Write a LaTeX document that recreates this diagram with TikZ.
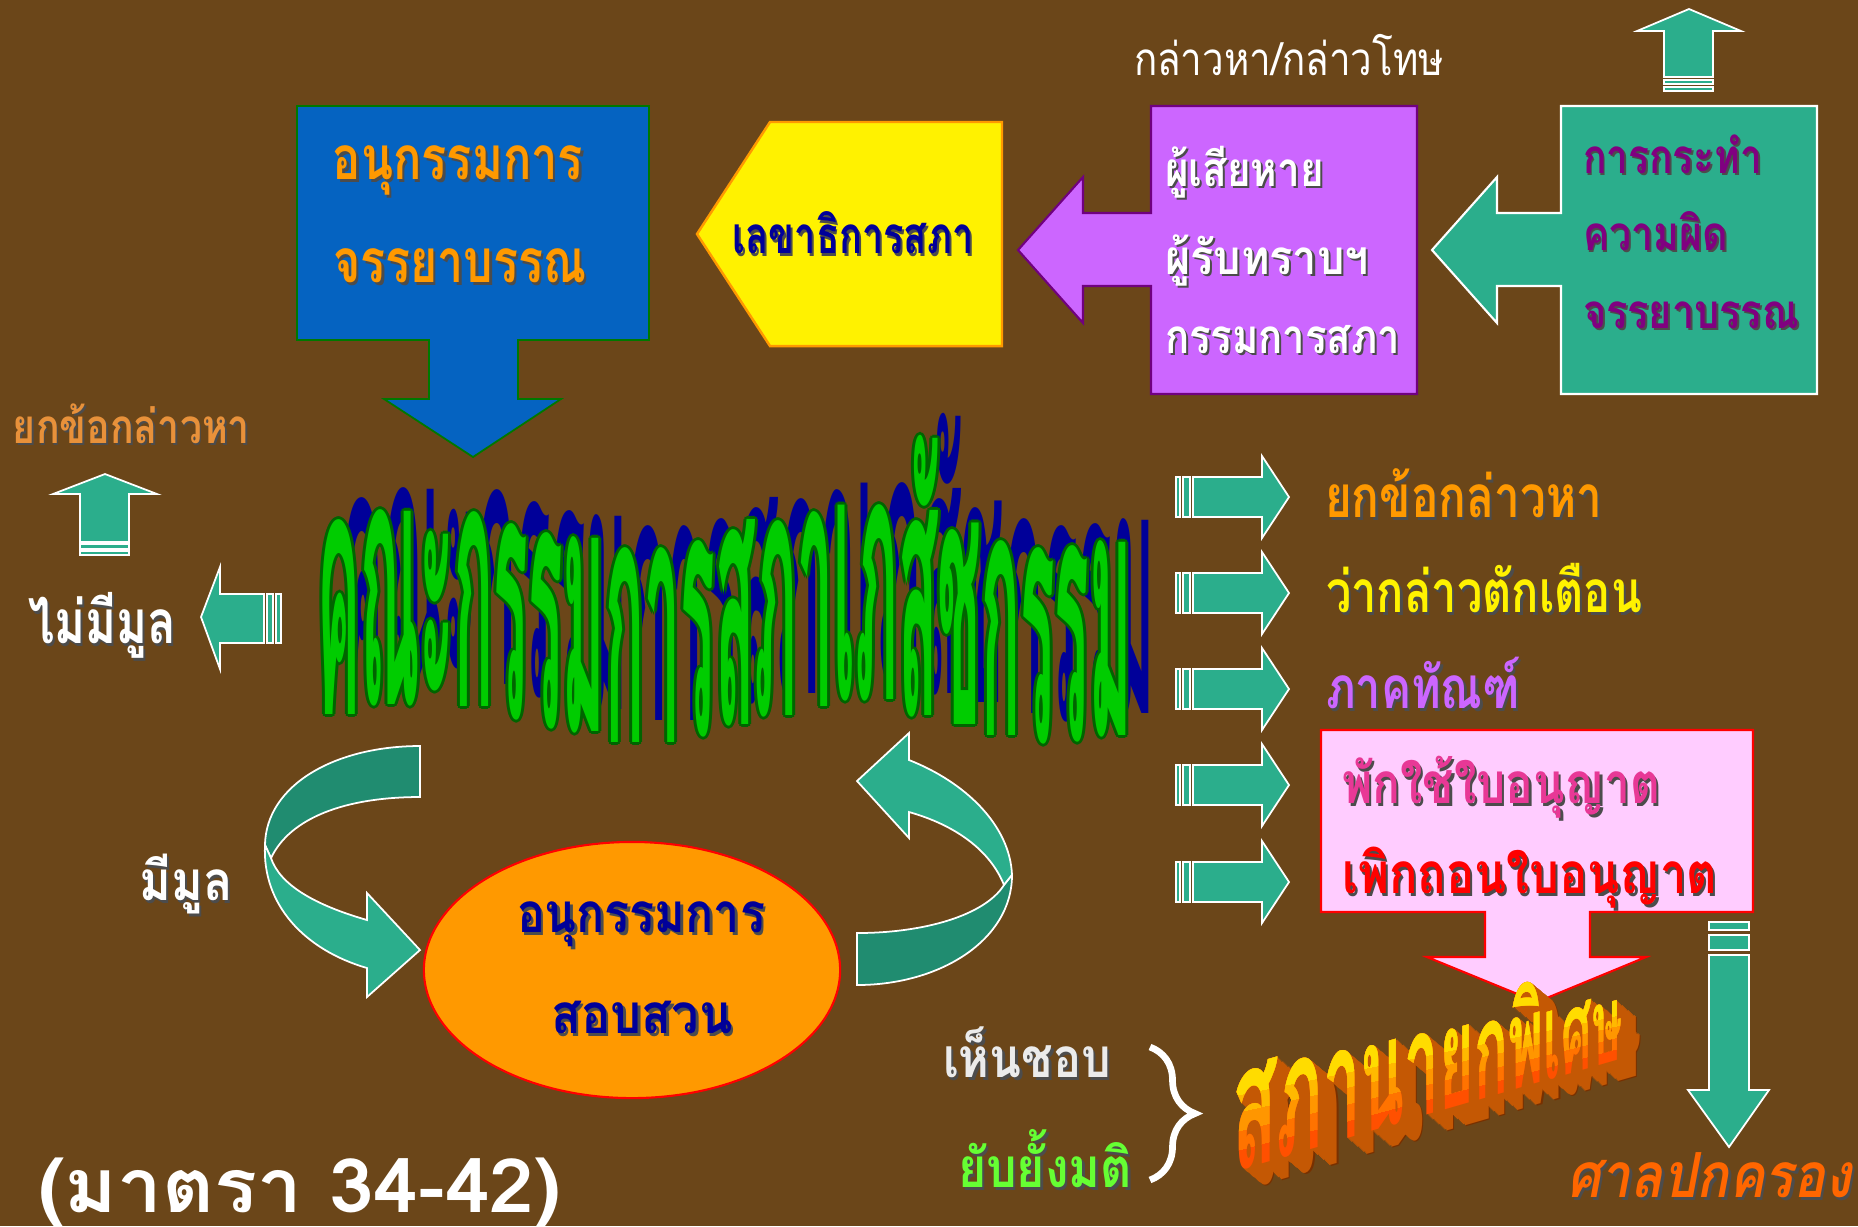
\documentclass[tikz,border=0pt]{standalone}
\usepackage{fontspec}
\usepackage{graphicx}
\newfontfamily\thf[Script=Thai]{Loma}
\newfontfamily\thsl[Script=Thai,FakeSlant=0.22]{Loma}
\usetikzlibrary{decorations.pathreplacing}
\definecolor{bg}{RGB}{107,70,25}
\definecolor{tealA}{RGB}{43,174,140}
\definecolor{tealD}{RGB}{32,140,112}
\definecolor{blueBox}{RGB}{5,99,193}
\definecolor{boxGreen}{RGB}{0,120,0}
\definecolor{orangeT}{RGB}{255,153,0}
\definecolor{orangeL}{RGB}{232,145,58}
\definecolor{navyT}{RGB}{0,0,153}
\definecolor{purpleBox}{RGB}{204,102,255}
\definecolor{purpleEdge}{RGB}{112,0,128}
\definecolor{plumT}{RGB}{128,0,128}
\definecolor{pinkBox}{RGB}{255,204,255}
\definecolor{pinkT}{RGB}{232,56,150}
\definecolor{limeT}{RGB}{102,255,51}
\definecolor{greyT}{RGB}{235,235,235}
\definecolor{courtT}{RGB}{255,102,0}
\definecolor{bigG}{RGB}{0,204,0}
\definecolor{bigGD}{RGB}{0,100,0}
\definecolor{extr}{RGB}{196,88,4}
\definecolor{extrD}{RGB}{120,48,0}
\definecolor{faceA}{RGB}{255,80,0}
\definecolor{faceB}{RGB}{255,115,0}
\definecolor{faceC}{RGB}{255,150,0}
\definecolor{faceD}{RGB}{255,185,0}
\definecolor{faceE}{RGB}{255,220,0}
\newlength\pxu \setlength\pxu{0.01cm}
\def\kx{0.52}
\newcommand\shd[2]{\rlap{\kern0.05em\raisebox{-0.06em}{\color{black!70}#2}}{\color{#1}#2}}
\newcommand\tfit[4]{\resizebox{#1\pxu}{\height}{\thf\bfseries\fontsize{\fpeval{#2*\kx}pt}{0pt}\selectfont\shd{#3}{#4}}}
\newcommand\tplain[4]{\resizebox{#1\pxu}{\height}{\thf\fontsize{\fpeval{#2*\kx}pt}{0pt}\selectfont\color{#3}#4}}
\newcommand\rbx[2]{\raisebox{#1pt}{#2}}
\newcommand\bigtxt{\rbx{0}{ค}\rbx{2.6}{ณ}\rbx{2.6}{ะ}\rbx{2}{ก}\rbx{-1.4}{ร}\rbx{-3.7}{ร}\rbx{-5.1}{ม}\rbx{-8}{ก}\rbx{-8}{า}\rbx{-6}{ร}\rbx{-3.1}{ส}\rbx{-0.3}{ภ}\rbx{2}{า}\rbx{4}{เ}\rbx{4}{ภ}\rbx{-0.3}{สั}\rbx{-3.1}{ช}\rbx{-6}{ก}\rbx{-8}{ร}\rbx{-7.4}{ร}\rbx{-6}{ม}}
\newcommand\bigfit[1]{\resizebox{815\pxu}{\height}{\thf\bfseries\fontsize{\fpeval{190*\kx}pt}{0pt}\selectfont\color{#1}\bigtxt}}
\newcommand\psc[2]{\scalebox{#1}{#2}}
\newcommand\sntext{\psc{1}{ส}\psc{0.96}{ภ}\psc{0.92}{า}\psc{0.88}{น}\psc{0.85}{า}\psc{0.81}{ย}\psc{0.77}{ก}\psc{0.73}{พิ}\psc{0.7}{เ}\psc{0.66}{ศ}\psc{0.62}{ษ}}
\newcommand\snfit[1]{\resizebox{390\pxu}{\height}{\thf\bfseries\fontsize{\fpeval{95*\kx}pt}{0pt}\selectfont\color{#1}\sntext}}
\tikzset{
  tealarrow/.style={fill=tealA, draw=white, line width=0.5pt, line join=miter},
  txt/.style={inner sep=0pt, outer sep=0pt},
  snface/.style={txt, anchor=base west, yslant=0.29},
}
\begin{document}
\begin{tikzpicture}[x=0.01cm,y=-0.01cm]
\useasboundingbox (0,0) rectangle (1858,1226);
\fill[bg] (0,0) rectangle (1858,1226);

% ---------- top row callouts ----------
\filldraw[fill=blueBox, draw=boxGreen, line width=0.5pt]
  (297,106) -- (649,106) -- (649,340) -- (518,340) -- (518,399) -- (561,399)
  -- (473,457) -- (384,399) -- (429,399) -- (429,340) -- (297,340) -- cycle;
\filldraw[fill=yellow, draw=orangeT, line width=0.7pt]
  (697,234) -- (770,122) -- (1002,122) -- (1002,346) -- (770,346) -- cycle;
\filldraw[fill=purpleBox, draw=purpleEdge, line width=0.6pt]
  (1151,106) -- (1417,106) -- (1417,394) -- (1151,394) -- (1151,286) -- (1083,286)
  -- (1083,323) -- (1018,250) -- (1083,177) -- (1083,213) -- (1151,213) -- cycle;
\filldraw[tealarrow, line width=0.6pt]
  (1561,106) -- (1817,106) -- (1817,394) -- (1561,394) -- (1561,286) -- (1497,286)
  -- (1497,323) -- (1432,250) -- (1497,177) -- (1497,213) -- (1561,213) -- cycle;

% top-right up arrow
\filldraw[tealarrow] (1689,9) -- (1741,31) -- (1713,31) -- (1713,77) -- (1664,77) -- (1664,31) -- (1637,31) -- cycle;
\filldraw[tealarrow] (1664,80) rectangle (1713,84);
\filldraw[tealarrow] (1664,87) rectangle (1713,91);

% left up arrow and left arrow
\filldraw[tealarrow] (105,474) -- (157,494) -- (129,494) -- (129,542) -- (80,542) -- (80,494) -- (53,494) -- cycle;
\filldraw[tealarrow] (80,544) rectangle (129,549);
\filldraw[tealarrow] (80,551) rectangle (129,555);
\filldraw[tealarrow] (201,617) -- (220,567) -- (220,594) -- (264,594) -- (264,643) -- (220,643) -- (220,669) -- cycle;
\filldraw[tealarrow] (267,594) rectangle (273,643);
\filldraw[tealarrow] (276,594) rectangle (281,643);

% right arrows
\foreach \cy in {497,593,689,785,882}{
  \filldraw[tealarrow] (1176,\cy-20) rectangle (1180,\cy+20);
  \filldraw[tealarrow] (1183,\cy-20) rectangle (1190,\cy+20);
  \filldraw[tealarrow] (1193,\cy-20) -- (1262,\cy-20) -- (1262,\cy-41) -- (1289,\cy) -- (1262,\cy+41) -- (1262,\cy+20) -- (1193,\cy+20) -- cycle;
}

% pink callout
\filldraw[fill=pinkBox, draw=red, line width=0.6pt]
  (1321,730) -- (1753,730) -- (1753,912) -- (1590,912) -- (1590,957) -- (1646,957)
  -- (1537,1002) -- (1427,957) -- (1485,957) -- (1485,912) -- (1321,912) -- cycle;

% right down arrow
\filldraw[tealarrow] (1709,922) rectangle (1749,930);
\filldraw[tealarrow] (1709,935) rectangle (1749,950);
\filldraw[tealarrow] (1709,955) -- (1749,955) -- (1749,1090) -- (1769,1090) -- (1729,1147) -- (1688,1090) -- (1709,1090) -- cycle;

% curved arrows
\filldraw[fill=tealD, draw=white, line width=0.5pt]
  (420,746) .. controls (335,746) and (266,785) .. (265,845) -- (271,858)
  .. controls (290,818) and (345,797) .. (420,797) -- cycle;
\filldraw[tealarrow]
  (265,845) .. controls (262,905) and (305,950) .. (367,968) -- (367,997) -- (420,950)
  -- (367,893) -- (367,920) .. controls (315,905) and (280,885) .. (271,858) -- cycle;
\filldraw[tealarrow]
  (909,760) .. controls (965,782) and (1010,825) .. (1012,875) -- (1004,885)
  .. controls (990,850) and (955,825) .. (909,812) -- (909,838) -- (857,781) -- (909,733) -- cycle;
\filldraw[fill=tealD, draw=white, line width=0.5pt]
  (1012,875) .. controls (1012,940) and (940,985) .. (857,985) -- (857,933)
  .. controls (925,933) and (985,915) .. (1004,885) -- cycle;

% ellipse
\filldraw[fill=orangeT, draw=red, line width=0.6pt] (632,970) ellipse [x radius=2.08cm, y radius=1.28cm];

% brace
\draw[white, line width=1.9pt, decorate, decoration={brace, amplitude=0.45cm}] (1150,1047) -- (1150,1180);

% ---------- texts ----------
\node[txt, anchor=base] (b1) at (458,179) {\tfit{250}{33}{orangeT}{อนุกรรมการ}};
\node[txt, anchor=base] (b2) at (460,282) {\tfit{253}{33}{orangeT}{จรรยาบรรณ}};
\node[txt, anchor=base] (sec) at (853,253) {\tfit{241}{28}{navyT}{เลขาธิการสภา}};
\node[txt, anchor=base] (acc) at (1289,75) {\tplain{310}{25}{white}{กล่าวหา/กล่าวโทษ}};
\node[txt, anchor=base west] (p1) at (1165,186) {\tfit{159}{26}{white}{ผู้เสียหาย}};
\node[txt, anchor=base west] (p2) at (1165,274) {\tfit{204}{26}{white}{ผู้รับทราบฯ}};
\node[txt, anchor=base west] (p3) at (1165,353) {\tfit{235}{26}{white}{กรรมการสภา}};
\node[txt, anchor=base west] (g1) at (1583,173) {\tfit{179}{26}{plumT}{การกระทำ}};
\node[txt, anchor=base west] (g2) at (1583,250) {\tfit{145}{26}{plumT}{ความผิด}};
\node[txt, anchor=base west] (g3) at (1583,328) {\tfit{216}{26}{plumT}{จรรยาบรรณ}};
\node[txt, anchor=base west] (lyk) at (13,443) {\tfit{237}{26}{orangeL}{ยกข้อกล่าวหา}};
\node[txt, anchor=base west] (nm) at (28,643) {\tfit{148}{33}{white}{ไม่มีมูล}};
\node[txt, anchor=base west] (r1) at (1325,517) {\tfit{277}{32}{orangeT}{ยกข้อกล่าวหา}};
\node[txt, anchor=base west] (r2) at (1326,612) {\tfit{316}{32}{yellow}{ว่ากล่าวตักเตือน}};
\node[txt, anchor=base west] (r3) at (1326,708) {\tfit{194}{32}{purpleBox}{ภาคทัณฑ์}};
\node[txt, anchor=base west] (k1) at (1342,803) {\tfit{318}{31}{pinkT}{พักใช้ใบอนุญาต}};
\node[txt, anchor=base west] (k2) at (1342,893) {\tfit{375}{31}{red}{เพิกถอนใบอนุญาต}};
\node[txt, anchor=base] (e1) at (641,932) {\tfit{248}{30}{navyT}{อนุกรรมการ}};
\node[txt, anchor=base] (e2) at (642,1033) {\tfit{181}{30}{navyT}{สอบสวน}};
\node[txt, anchor=base] (mm) at (186,900) {\tfit{93}{30}{white}{มีมูล}};
\node[txt, anchor=base] (hc) at (1027,1077) {\tfit{168}{30}{greyT}{เห็นชอบ}};
\node[txt, anchor=base] (yy) at (1045,1187) {\tfit{174}{30}{limeT}{ยับยั้งมติ}};
\node[txt, anchor=base west] (court) at (1567,1197) {\resizebox{284\pxu}{\height}{\thsl\bfseries\fontsize{\fpeval{34*\kx}pt}{0pt}\selectfont\shd{courtT}{ศาลปกครอง}}};
\node[txt, anchor=base west] (mat) at (38,1212) {\resizebox{523\pxu}{\height}{\thf\bfseries\fontsize{\fpeval{41*\kx}pt}{0pt}\selectfont\color{white}(มาตรา 34-42)}};

% ---------- big wavy title ----------
\node[txt, anchor=base west] (bigS) at (340,692) {\bigfit{navyT}};
\foreach \dx/\dy [count=\i] in {-3/0,3/0,0/-3,0/3,-2/-2,2/-2,-2/2,2/2}
  \node[txt, anchor=base west] (bigO\i) at (317+\dx,714+\dy) {\bigfit{bigGD}};
\node[txt, anchor=base west] (big) at (317,714) {\bigfit{bigG}};

% ---------- special president (3D) ----------
\node[snface] (snEdge) at (1232+1.2*17,1172+1.0*17) {\snfit{extrD}};
\foreach \k in {16,15,...,1}
  \node[snface] (snE\k) at (1232+1.2*\k,1172+1.0*\k) {\snfit{extr}};
\node[snface] (snA) at (1232,1172) {\snfit{faceA}};
\foreach \t/\c [count=\j] in {0.22/faceB,0.42/faceC,0.62/faceD,0.8/faceE}{
  \begin{scope}
    \clip (1190,{1185-100*\t}) -- (1670,{1046-52*\t}) -- (1670,900) -- (1190,900) -- cycle;
    \node[snface] (snF\j) at (1232,1172) {\snfit{\c}};
  \end{scope}
}
\end{tikzpicture}
\end{document}
